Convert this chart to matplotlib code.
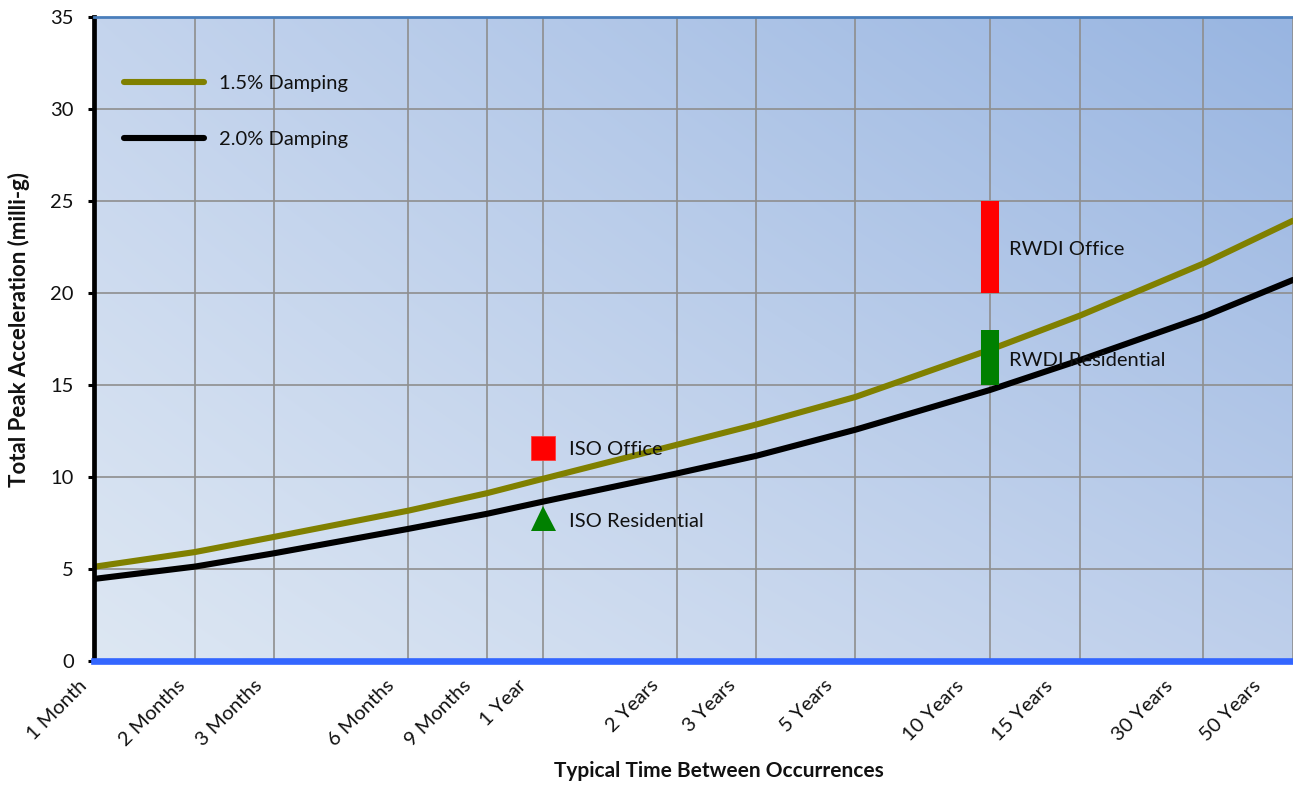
import numpy as np
import matplotlib
matplotlib.use("Agg")
import matplotlib.pyplot as plt
from matplotlib.transforms import ScaledTranslation

plt.rcParams['font.family'] = ['Lato', 'DejaVu Sans']

# ---- data (x in months) ----
curve_months = [1.19, 2, 3, 6, 9, 12, 24, 36, 60, 120, 191, 360, 571]
damping_15 = [5.12, 5.92, 6.74, 8.17, 9.12, 9.90, 11.76, 12.85, 14.35, 16.92, 18.78, 21.60, 23.93]
damping_20 = [4.46, 5.13, 5.85, 7.18, 8.00, 8.66, 10.20, 11.15, 12.57, 14.73, 16.36, 18.71, 20.71]

tick_months = [1.19, 2, 3, 6, 9, 12, 24, 36, 60, 120, 191, 360, 571]
tick_labels = ['1 Month', '2 Months', '3 Months', '6 Months', '9 Months', '1 Year',
               '2 Years', '3 Years', '5 Years', '10 Years', '15 Years', '30 Years', '50 Years']
y_ticks = [0, 5, 10, 15, 20, 25, 30, 35]

iso_month = 12
iso_office = 11.6
iso_residential = 7.75
rwdi_month = 120
rwdi_office = (20, 25)
rwdi_residential = (15, 18)

W, H, DPI = 1293, 785, 100
fig = plt.figure(figsize=(W / DPI, H / DPI), dpi=DPI)
L, R, T, B = 94, 1293, 17, 661
ax = fig.add_axes([L / W, 1 - B / H, (R - L) / W, (B - T) / H])

# gradient background
n = 200
u = np.linspace(0, 1, n)[None, :]
v = np.linspace(0, 1, n)[:, None]
BL = np.array([221, 231, 243]) / 255
TL = np.array([196, 212, 237]) / 255
BR = np.array([190, 207, 235]) / 255
TR = np.array([152, 181, 225]) / 255
img = ((1 - u)[..., None] * (1 - v)[..., None] * BL + u[..., None] * (1 - v)[..., None] * BR
       + (1 - u)[..., None] * v[..., None] * TL + u[..., None] * v[..., None] * TR)
ax.imshow(img, extent=[0, 1, 0, 1], transform=ax.transAxes, origin='lower',
          aspect='auto', zorder=0, interpolation='bilinear')

ax.set_xscale('log')
ax.set_xlim(tick_months[0], tick_months[-1])
ax.set_ylim(0, 35)
ax.set_xticks(tick_months)
ax.set_xticks([], minor=True)
ax.set_xticklabels(tick_labels)
ax.set_yticks(y_ticks)

ax.grid(True, color='#8e8e8e', linewidth=1.2, zorder=1)
ax.set_axisbelow(True)

lw_curve = 4.4
ax.plot(curve_months, damping_15, color='#808000', lw=lw_curve, label='1.5% Damping',
        solid_capstyle='round', solid_joinstyle='round', zorder=3)
ax.plot(curve_months, damping_20, color='black', lw=lw_curve, label='2.0% Damping',
        solid_capstyle='round', solid_joinstyle='round', zorder=3)

# ISO markers
ax.plot([iso_month], [iso_office], marker='s', color='#ff0000', markersize=17,
        markeredgecolor='#ff3b3b', markeredgewidth=0.6, zorder=4)
ax.plot([iso_month], [iso_residential], marker='^', color='#008000', markersize=18,
        markeredgewidth=0, zorder=4)
# RWDI ranges
ax.plot([rwdi_month, rwdi_month], list(rwdi_office), color='#ff0000', lw=13,
        solid_capstyle='butt', zorder=4)
ax.plot([rwdi_month, rwdi_month], list(rwdi_residential), color='#008000', lw=13,
        solid_capstyle='butt', zorder=4)

txt_kw = dict(textcoords='offset points', fontsize=14.5, color='#111111',
              ha='left', va='baseline', zorder=5)
ax.annotate('ISO Office', (iso_month, iso_office), xytext=(18.5, -5.5), **txt_kw)
ax.annotate('ISO Residential', (iso_month, iso_residential), xytext=(18.5, -6.5), **txt_kw)
ax.annotate('RWDI Office', (rwdi_month, np.mean(rwdi_office)), xytext=(14, -6), **txt_kw)
ax.annotate('RWDI Residential', (rwdi_month, np.mean(rwdi_residential)), xytext=(14, -6), **txt_kw)

# spines
ax.spines['left'].set_color('black')
ax.spines['left'].set_linewidth(3.4)
ax.spines['bottom'].set_color('#3366ff')
ax.spines['bottom'].set_linewidth(4.8)
ax.spines['top'].set_color('#4a7ebb')
ax.spines['top'].set_linewidth(2.0)
ax.spines['right'].set_visible(False)
for s in ax.spines.values():
    s.set_zorder(6)

ax.tick_params(axis='y', direction='out', length=4.5, width=2.2, color='black',
               labelsize=14.5, pad=10, labelcolor='#111111')
ax.tick_params(axis='x', length=0, labelsize=14.5, pad=18.5, labelcolor='#111111')

# x tick labels: rotated, right end of baseline near the tick
x0_disp = ax.transData.transform((tick_months[0], 0))[0]
for m, lab in zip(tick_months, ax.get_xticklabels()):
    lab.set_rotation(45)
    lab.set_rotation_mode('anchor')
    lab.set_ha('right')
    lab.set_va('baseline')
    xd = ax.transData.transform((m, 0))[0]
    dx = -(6 + 0.021 * (xd - x0_disp)) / DPI
    lab.set_transform(lab.get_transform() + ScaledTranslation(dx, 0, fig.dpi_scale_trans))

ax.set_ylabel('Total Peak Acceleration (milli-g)', fontsize=16, fontweight='bold',
              color='#111111', va='center')
ax.yaxis.set_label_coords((19 - L) / (R - L), 0.515)
ax.set_xlabel('Typical Time Between Occurrences', fontsize=15, fontweight='bold',
              color='#111111', va='center')
ax.xaxis.set_label_coords((719 - L) / (R - L), (B - 771) / (B - T))

leg = ax.legend(loc='upper left', bbox_to_anchor=(0.018, 0.922), frameon=False,
                fontsize=14.5, handlelength=4.0, handletextpad=0.75, labelspacing=1.9,
                borderaxespad=0)
for h in leg.get_lines():
    h.set_linewidth(4.4)
    h.set_solid_capstyle('round')
for t in leg.get_texts():
    t.set_color('#111111')

fig.savefig('out.png', dpi=DPI)
